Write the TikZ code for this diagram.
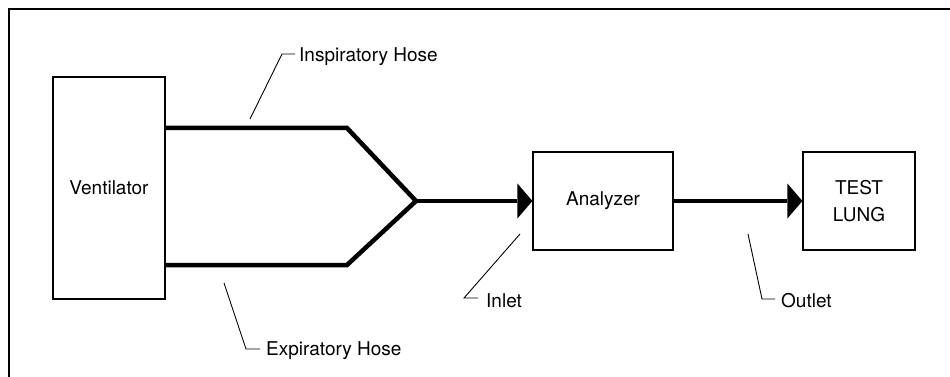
\documentclass[tikz,border=0pt]{standalone}
\usepackage{fontspec}
\setmainfont{TeX Gyre Heros}
\usetikzlibrary{arrows.meta,positioning}

\begin{document}
\begin{tikzpicture}
[x=1pt,y=-1pt,>={Triangle[length=15pt,width=35pt,line width=0pt]},
 box/.style = {draw, line width=1.2pt, inner sep=0pt, align=center, font=\fontsize{19}{27}\selectfont},
 hose/.style = {line width=4.5pt, line join=miter},
 leader/.style = {line width=0.9pt},
 tag/.style = {inner sep=0pt, anchor=base west, font=\fontsize{19}{23}\selectfont},]
\useasboundingbox (0,0) rectangle (950,377);
\draw[line width=1.4pt] (9,377) -- (9,9) -- (950,9);
% boxes
\node (vent) at (109,188)[box,minimum width=112pt,minimum height=222pt] {Ventilator};
\node (ana) at (603,201)[box,minimum width=140pt,minimum height=98pt] {Analyzer};
\node (lung) at (859,201)[box,minimum width=112pt,minimum height=98pt] {TEST\\LUNG};
% hoses and flow
\coordinate (up) at (347,128);
\coordinate (lo) at (347,265);
\coordinate (join) at (416,201);
\draw[hose] (vent.east |- up) -- (up) -- (join) -- (lo) -- (vent.east |- lo);
\draw[hose,->] (join) -- (ana.west);
\draw[hose,->] (ana.east) -- (lung.west);
% labels
\node (insptag) at (299,62)[tag] {Inspiratory Hose};
\node (exptag) at (266,355)[tag] {Expiratory Hose};
\node (inlettag) at (486,307)[tag] {Inlet};
\node (outlettag) at (781,307)[tag] {Outlet};
\coordinate (inspfoot) at (250,119);
\coordinate (inspknee) at (282,54);
\coordinate (expfoot) at (224,283);
\coordinate (expknee) at (246,349);
\coordinate (inletfoot) at (520,234);
\coordinate (inletknee) at (464,298);
\coordinate (outletfoot) at (748,234);
\coordinate (outletknee) at (762,299);
\draw[leader] (inspfoot) -- (inspknee) -- ([xshift=-4pt]insptag.west |- inspknee);
\draw[leader] (expfoot) -- (expknee) -- ([xshift=-6pt]exptag.west |- expknee);
\draw[leader] (inletfoot) -- (inletknee) -- ([xshift=-8pt]inlettag.west |- inletknee);
\draw[leader] (outletfoot) -- (outletknee) -- ([xshift=-6pt]outlettag.west |- outletknee);
\end{tikzpicture}
\end{document}
